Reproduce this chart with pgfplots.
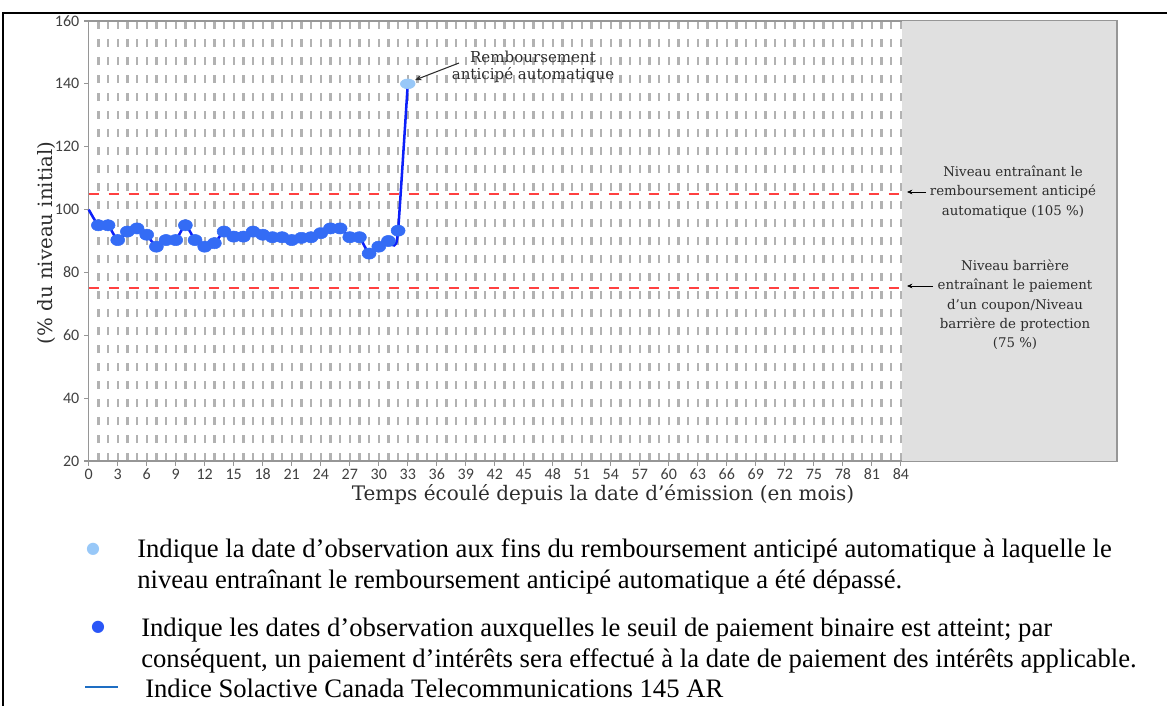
\documentclass[border=0pt]{standalone}
\usepackage{pgfplots}
\pgfplotsset{compat=1.18}
\usepackage{pgfplotstable}
\usetikzlibrary{arrows.meta}
\usepackage{fontspec}
\setmainfont{Liberation Serif}
\newfontfamily\dserif{DejaVu Serif}
\newfontfamily\dsans{DejaVu Sans}
\newfontfamily\carlito{Carlito}
\definecolor{gridgray}{RGB}{178,178,178}
\definecolor{refred}{RGB}{255,64,64}
\definecolor{lineblue}{RGB}{12,32,250}
\definecolor{markblue}{RGB}{52,108,245}
\definecolor{lightblue}{RGB}{152,200,248}
\definecolor{panelgray}{RGB}{224,224,224}
\definecolor{spine}{RGB}{150,150,150}
\definecolor{ticktext}{RGB}{64,64,64}
\definecolor{annot}{RGB}{45,45,45}
\definecolor{legline}{RGB}{30,110,195}

% monthly observation dates (binary coupon threshold reached)
\pgfplotstableread{
m v
1 95
2 95
3 90.3
4 93
5 94
6 92
7 88.2
8 90.3
9 90.3
10 95
11 90.3
12 88.2
13 89.3
14 93
15 91.4
16 91.4
17 93
18 92
19 91.2
20 91.2
21 90.3
22 91
23 91.2
24 92.5
25 94
26 94
27 91.2
28 91.2
29 86
30 88.2
31 90
32 93.3
}\obsdata

% index level line
\pgfplotstableread{
m v
0 100
1 95
2 95
3 90.3
4 93
5 94
6 92
7 88.2
8 90.3
9 90.3
10 95
11 90.3
12 88.2
13 89.3
14 93
15 91.4
16 91.4
17 93
18 92
19 91.2
20 91.2
21 90.3
22 91
23 91.2
24 92.5
25 94
26 94
27 91.2
28 91.2
29 86
30 88.2
31 90
31.6 88.6
32 93.3
33 140
}\linedata

\begin{document}
\begin{tikzpicture}[x=0.75pt,y=-0.75pt]
\path[use as bounding box] (0,0) rectangle (1167,706);
\draw[line width=2.2pt] (3,706) -- (3,13) -- (1167,13);

\begin{axis}[
  at={(66.525pt,-345.75pt)}, anchor=south west,
  scale only axis, width=771.2pt, height=330pt,
  xmin=0, xmax=106.35, ymin=20, ymax=160,
  xtick={0,3,...,84}, ytick={20,40,...,160},
  minor xtick={1,...,84},
  xminorgrids=true,
  minor tick length=0pt,
  minor grid style={gridgray, line width=1.7pt, dash pattern=on 6pt off 7.5pt},
  axis line style={spine, line width=0.9pt},
  tick style={spine, line width=0.8pt},
  major tick length=3.5pt,
  tick align=outside, tick pos=left,
  /pgf/number format/assume math mode=true,
  ticklabel style={font=\carlito\fontsize{12}{14}\selectfont, text=ticktext},
  xticklabel style={yshift=1pt},
  clip=false,
]
\fill[panelgray] (axis cs:84.12,20) rectangle (axis cs:106.35,160);
\draw[spine, line width=0.9pt] (axis cs:106.35,20) -- (axis cs:106.35,160);
\addplot[refred, line width=2pt, dash pattern=on 7.5pt off 7.5pt] coordinates {(0,105) (84,105)};
\addplot[refred, line width=2pt, dash pattern=on 7.5pt off 7.5pt] coordinates {(0,75) (84,75)};
\addplot[only marks, mark=*, color=markblue, mark size=4.2pt, mark options={xscale=1.25}] table[x=m,y=v] {\obsdata};
\addplot[lineblue, line width=1.9pt, smooth, tension=0.35] table[x=m,y=v] {\linedata};
\addplot[only marks, mark=*, color=lightblue, mark size=3.7pt, mark options={xscale=1.5}] coordinates {(33,140)};
\end{axis}

% axis titles
\node[font=\dserif\fontsize{15}{17}\selectfont, text=annot] at (603,495) {Temps écoulé depuis la date d’émission (en mois)};
\node[font=\dserif\fontsize{14.8}{17}\selectfont, text=annot, rotate=90] at (47,243) {(\% du niveau initial)};

% annotations
\node[font=\dserif\fontsize{11.3}{12.75}\selectfont, text=annot, align=center] at (533,67) {Remboursement\\anticipé automatique};
\draw[-{Stealth[length=5pt,width=4pt]}, annot, line width=0.8pt] (459,63) -- (415,80);

\node[font=\dserif\fontsize{10}{14.6}\selectfont, text=annot, align=center] at (1013,192) {Niveau entraînant le\\remboursement anticipé\\automatique (105 \%)};
\draw[-{Stealth[length=4pt,width=3.5pt]}, black, line width=0.7pt] (926,192) -- (907,192);

\node[font=\dserif\fontsize{10}{14.5}\selectfont, text=annot, align=center] at (1015,305) {Niveau barrière\\entraînant le paiement\\d’un coupon/Niveau\\barrière de protection\\(75 \%)};
\draw[-{Stealth[length=4pt,width=3.5pt]}, black, line width=0.7pt] (933,286) -- (907,286);

% legend
\node[font=\dsans\fontsize{12}{12}\selectfont, text=lightblue, anchor=center] at (93,549) {●};
\node[font=\fontsize{20}{23}\selectfont, anchor=base west, inner sep=0pt] at (137,557) {Indique la date d’observation aux fins du remboursement anticipé automatique à laquelle le};
\node[font=\fontsize{20}{23}\selectfont, anchor=base west, inner sep=0pt] at (137,588) {niveau entraînant le remboursement anticipé automatique a été dépassé.};

\node[font=\dsans\fontsize{12}{12}\selectfont, text=markblue!80!blue, anchor=center] at (98,627) {●};
\node[font=\fontsize{20}{23}\selectfont, anchor=base west, inner sep=0pt] at (141,636) {Indique les dates d’observation auxquelles le seuil de paiement binaire est atteint; par};
\node[font=\fontsize{20}{23}\selectfont, anchor=base west, inner sep=0pt] at (141,667) {conséquent, un paiement d’intérêts sera effectué à la date de paiement des intérêts applicable.};

\draw[legline, line width=2.2pt] (85,687) -- (118,687);
\node[font=\fontsize{20}{23}\selectfont, anchor=base west, inner sep=0pt] at (145,697) {Indice Solactive Canada Telecommunications 145 AR};
\end{tikzpicture}
\end{document}
